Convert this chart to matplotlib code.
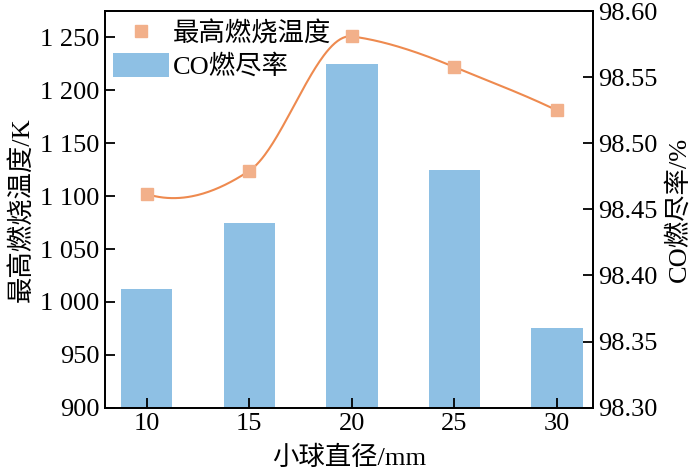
import numpy as np
import matplotlib
matplotlib.use('Agg')
import matplotlib.pyplot as plt

plt.rcParams['font.family'] = ['Liberation Serif', 'Noto Sans CJK SC']

# data
diam = [10, 15, 20, 25, 30]
t_max = [1102, 1124, 1251, 1222, 1181]        # 最高燃烧温度 / K
co_rate = [98.39, 98.44, 98.56, 98.48, 98.36]  # CO燃尽率 / %

left_ticks = [900, 950, 1000, 1050, 1100, 1150, 1200, 1250]
left_labels = ['900', '950', '1 000', '1 050', '1 100', '1 150', '1 200', '1 250']
right_ticks = [98.30, 98.35, 98.40, 98.45, 98.50, 98.55, 98.60]


def akima(x, y, xs):
    # Akima spline, end slopes extrapolated
    x = np.asarray(x, float)
    y = np.asarray(y, float)
    n = len(x)
    h = np.diff(x)
    m = np.diff(y) / h
    mm = np.empty(n + 3)
    mm[2:n + 1] = m
    mm[1] = 2 * mm[2] - mm[3]
    mm[0] = 2 * mm[1] - mm[2]
    mm[n + 1] = 2 * mm[n] - mm[n - 1]
    mm[n + 2] = 2 * mm[n + 1] - mm[n]
    t = np.empty(n)
    for i in range(n):
        w1 = abs(mm[i + 3] - mm[i + 2])
        w2 = abs(mm[i + 1] - mm[i])
        if w1 + w2 == 0:
            t[i] = 0.5 * (mm[i + 1] + mm[i + 2])
        else:
            t[i] = (w1 * mm[i + 1] + w2 * mm[i + 2]) / (w1 + w2)
    out = np.empty_like(xs)
    for k, v in enumerate(xs):
        i = int(np.clip(np.searchsorted(x, v) - 1, 0, n - 2))
        s = (v - x[i]) / h[i]
        h00 = 2 * s**3 - 3 * s**2 + 1
        h10 = s**3 - 2 * s**2 + s
        h01 = -2 * s**3 + 3 * s**2
        h11 = s**3 - s**2
        out[k] = h00 * y[i] + h10 * h[i] * t[i] + h01 * y[i + 1] + h11 * h[i] * t[i + 1]
    return out


fig = plt.figure(figsize=(7, 4.73), dpi=100)
ax1 = fig.add_axes([0.1496, 0.138, 0.6975, 0.8387])
ax2 = ax1.twinx()
ax1.set_zorder(ax2.get_zorder() + 1)
ax1.patch.set_visible(False)

fs = 19

bars = ax2.bar(diam, co_rate, width=2.5, color='#8ec0e4', label='CO燃尽率')
ax2.set_ylim(98.30, 98.60)
ax2.set_yticks(right_ticks)
ax2.set_yticklabels(['%.2f' % v for v in right_ticks])
ax2.set_ylabel('CO燃尽率/%', fontsize=fs, labelpad=6)

xs = np.linspace(diam[0], diam[-1], 300)
ax1.plot(xs, akima(diam, t_max, xs), color='#ee8a4f', lw=1.5)
pts, = ax1.plot(diam, t_max, 's', color='#f2b08a', ms=8.5, label='最高燃烧温度')
ax1.set_ylim(900, 1275)
ax1.set_yticks(left_ticks)
ax1.set_yticklabels(left_labels)
ax1.set_xlim(7.95, 31.75)
ax1.set_xticks(diam)
ax1.set_ylabel('最高燃烧温度/K', fontsize=fs, labelpad=4)
ax1.set_xlabel('小球直径/mm', fontsize=fs, labelpad=8)

for ax in (ax1, ax2):
    ax.tick_params(direction='in', length=7, width=1.3, labelsize=fs)
    for s in ax.spines.values():
        s.set_linewidth(1.3)
ax1.tick_params(axis='y', pad=4)
ax2.tick_params(axis='y', pad=4)

ax1.legend([pts, bars], ['最高燃烧温度', 'CO燃尽率'], loc='upper left',
           bbox_to_anchor=(-0.02, 1.022), frameon=False, fontsize=fs,
           handlelength=2.1, handleheight=1.05, handletextpad=0.15,
           labelspacing=0.22, borderaxespad=0.3)

fig.savefig('out.png', dpi=100)
